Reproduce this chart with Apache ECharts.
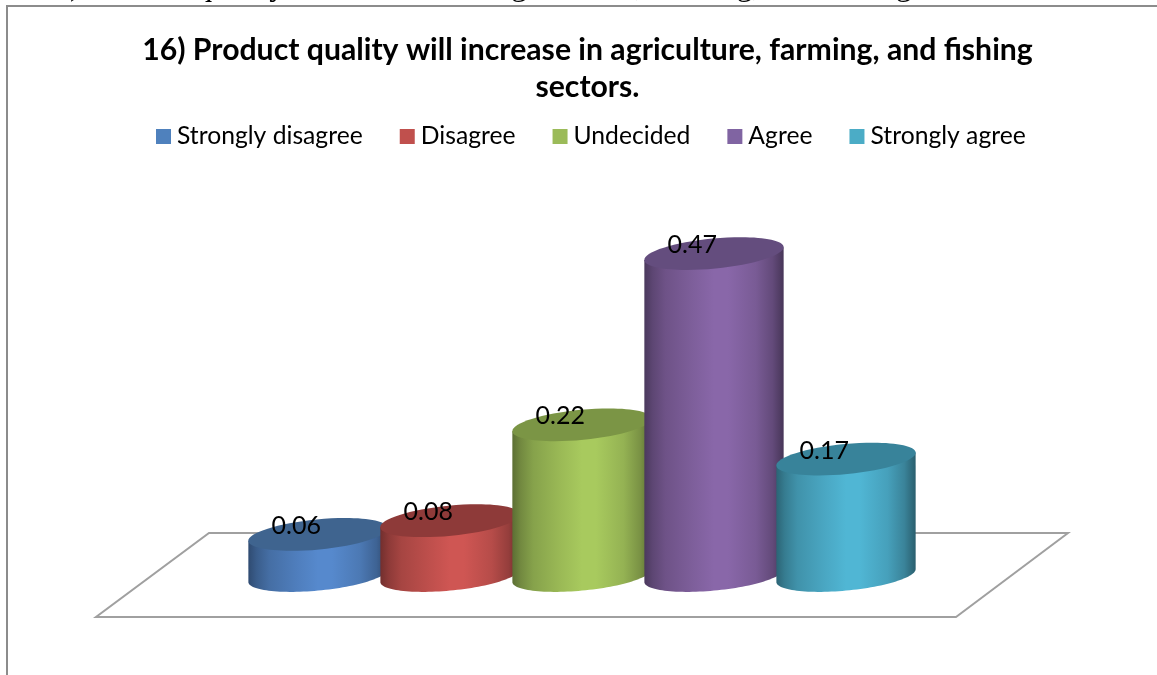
<!DOCTYPE html>
<html>
<head>
<meta charset="utf-8">
<style>html,body{margin:0;padding:0;background:#fff;}#c{width:1157px;height:675px;}</style>
<script src="https://cdn.jsdelivr.net/npm/echarts@6/dist/echarts.min.js"></script>
</head>
<body>
<div id="c"></div>
<script>
var categories = ['Strongly disagree', 'Disagree', 'Undecided', 'Agree', 'Strongly agree'];
var values = [0.06, 0.08, 0.22, 0.47, 0.17];
var legendColors = ['#4f81bd', '#c0504d', '#9bbb59', '#8064a2', '#4bacc6'];
var bodyColors = ['#5689cd', '#cf5653', '#a8ca5e', '#8967a9', '#50b6d4'];
var topColors = ['#3f648f', '#8e3a39', '#7b9545', '#644d7e', '#38839a'];
var titleText = '16) Product quality will increase in agriculture, farming, and fishing\nsectors.';
var pageText = 'Q16) Product quality will increase in agriculture, farming, and fishing sectors.';

function shade(hex, k) {
  var n = parseInt(hex.slice(1), 16);
  var r = Math.round(((n >> 16) & 255) * k), g = Math.round(((n >> 8) & 255) * k), b = Math.round((n & 255) * k);
  return 'rgb(' + r + ',' + g + ',' + b + ')';
}
function bodyGradient(hex) {
  var stops = [[0, .55], [.06, .68], [.15, .8], [.35, .92], [.5, 1], [.6, 1], [.8, .88], [.92, .72], [1, .52]];
  return new echarts.graphic.LinearGradient(0, 0, 1, 0, stops.map(function (s) {
    return { offset: s[0], color: shade(hex, s[1]) };
  }));
}
var tilt = -5.5 * Math.PI / 180;

function renderCylinder(params, api) {
  var i = api.value(0), v = api.value(1);
  var base = api.coord([i, 0]), top = api.coord([i, v]);
  var band = api.size([1, 0])[0];
  var rx = band * 0.53, ry = band * 0.114;
  var ct = Math.cos(tilt), st = Math.sin(tilt);
  var t0 = Math.atan2(-ry * st, rx * ct);
  var pts = [];
  for (var k = 0; k <= 60; k++) {
    var t = t0 + Math.PI * k / 60;
    pts.push([base[0] + rx * Math.cos(t) * ct - ry * Math.sin(t) * st,
              base[1] + rx * Math.cos(t) * st + ry * Math.sin(t) * ct]);
  }
  var dy = top[1] - base[1];
  var last = pts[60], first = pts[0];
  pts.push([last[0], last[1] + dy]);
  pts.push([first[0], first[1] + dy]);
  return {
    type: 'group',
    children: [
      { type: 'polygon', shape: { points: pts }, style: { fill: bodyGradient(bodyColors[i]) } },
      { type: 'ellipse', x: top[0], y: top[1], rotation: -tilt,
        shape: { cx: 0, cy: 0, rx: rx, ry: ry }, style: { fill: topColors[i] } },
      { type: 'text', x: top[0] - band * 0.165, y: top[1] - band * 0.065, z2: 10,
        style: { text: String(v), fill: '#000', font: '25px Lato', align: 'center', verticalAlign: 'middle' } }
    ]
  };
}

var chart = echarts.init(document.getElementById('c'), null, { renderer: 'canvas' });
chart.setOption({
  animation: false,
  backgroundColor: '#fff',
  color: legendColors,
  title: {
    text: titleText, left: 582.5, top: 27, textAlign: 'center',
    textStyle: { fontFamily: 'Lato', fontWeight: 'bold', fontSize: 30.2, color: '#000', lineHeight: 37 }
  },
  legend: {
    left: 156, top: 124, padding: 0, itemWidth: 15, itemHeight: 15, itemGap: 37, icon: 'rect',
    textStyle: { fontFamily: 'Lato', fontSize: 24.7, color: '#000', padding: [0, 0, 0, 1] },
    data: categories
  },
  grid: { left: 252, width: 660, top: 233, height: 342.5 },
  xAxis: { type: 'category', data: categories, show: false },
  yAxis: { type: 'value', min: 0, max: 0.5, show: false },
  graphic: [
    { type: 'text', x: 15, y: -29, z: 0, style: { text: pageText, fill: '#000', font: '32px "Liberation Serif"' } },
    { type: 'polygon', z: 0, shape: { points: [[209, 533], [1068, 533], [956, 617], [96, 617]] },
      style: { fill: '#fff', stroke: '#a0a0a0', lineWidth: 2 } },
    { type: 'polyline', z: 1, shape: { points: [[7, 675], [7, 6], [1157, 6]] },
      style: { fill: 'none', stroke: '#8c8c8c', lineWidth: 2 } }
  ],
  series: categories.map(function (name, i) {
    return {
      type: 'custom', name: name, coordinateSystem: 'cartesian2d',
      renderItem: renderCylinder, encode: { x: 0, y: 1 }, clip: false,
      data: [[i, values[i]]]
    };
  })
});
</script>
</body>
</html>
